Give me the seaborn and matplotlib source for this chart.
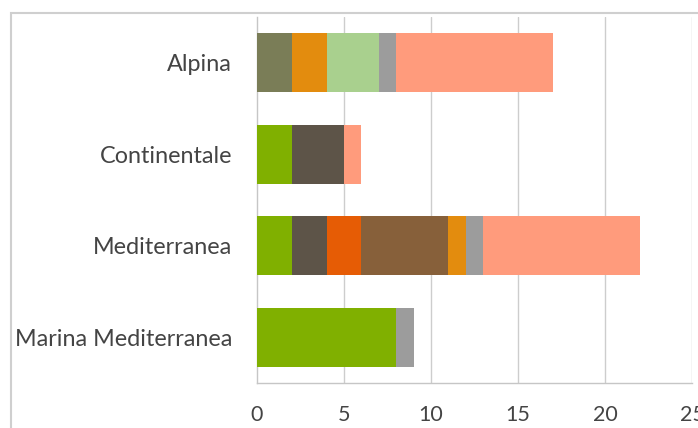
import matplotlib
matplotlib.use("Agg")
import matplotlib.pyplot as plt
import matplotlib.patches as mpatches
import numpy as np
import pandas as pd
import seaborn as sns

categories = ["Alpina", "Continentale", "Mediterranea", "Marina Mediterranea"]

# segment values per category (stack order left to right)
s_green      = [0, 2, 2, 8]
s_olive      = [2, 0, 0, 0]
s_darkbrown  = [0, 3, 2, 0]
s_orangered  = [0, 0, 2, 0]
s_brown      = [0, 0, 5, 0]
s_orange     = [2, 0, 1, 0]
s_lightgreen = [3, 0, 0, 0]
s_grey       = [1, 0, 1, 1]
s_salmon     = [9, 1, 9, 0]

series = [s_green, s_olive, s_darkbrown, s_orangered, s_brown,
          s_orange, s_lightgreen, s_grey, s_salmon]
colors = ["#80b000", "#7a7d57", "#5d5448", "#e65c05", "#87603a",
          "#e38c0e", "#a9d08e", "#9c9c9c", "#ff9b7c"]

xticks = [0, 5, 10, 15, 20, 25]

sns.set_theme(style="white")
plt.rcParams["font.family"] = ["Lato", "DejaVu Sans"]

fig = plt.figure(figsize=(6.98, 4.28), dpi=100)
ax = fig.add_axes([257/698, 1 - 383/428, (692 - 257)/698, (383 - 17)/428])

cum = np.cumsum(np.array(series), axis=0)
for i in range(len(series) - 1, -1, -1):
    df = pd.DataFrame({"cat": categories, "val": cum[i]})
    sns.barplot(data=df, x="val", y="cat", order=categories, orient="h",
                color=colors[i], width=0.65, linewidth=0, saturation=1,
                ax=ax, zorder=3)

ax.set_xlim(0, 25)
ax.set_xticks(xticks)
ax.set_xticklabels([str(t) for t in xticks])
ax.set_xlabel("")
ax.set_ylabel("")
for t in xticks[1:]:
    ax.axvline(t, color="#cdcdcd", lw=1, zorder=1)
for s in ["top", "right"]:
    ax.spines[s].set_visible(False)
for s in ["left", "bottom"]:
    ax.spines[s].set_color("#c6c6c6")
    ax.spines[s].set_linewidth(1)
ax.tick_params(axis="both", length=0, colors="#444444")
ax.tick_params(axis="x", pad=16, labelsize=15.5)
ax.tick_params(axis="y", pad=18, labelsize=16.8)

# outer chart frame
frame = mpatches.Rectangle((11/698, -0.05), 1.0, 1 - 13/428 + 0.05,
                           transform=fig.transFigure, fill=False,
                           edgecolor="#cfcfcf", lw=1.5, clip_on=False)
fig.patches.append(frame)

fig.savefig("out.png", dpi=100)
